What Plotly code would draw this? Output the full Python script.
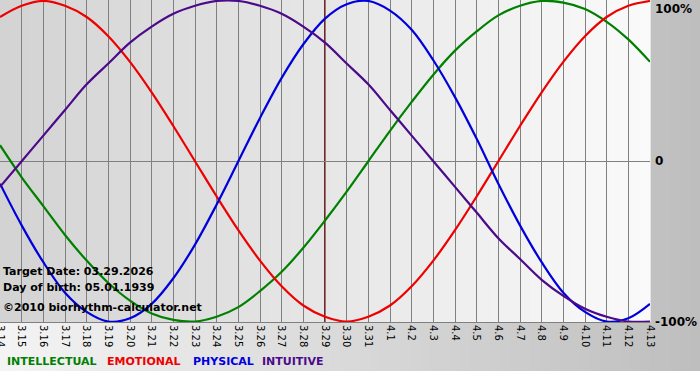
import plotly.graph_objects as go

# ---- data ----
DAYS = ["3.14", "3.15", "3.16", "3.17", "3.18", "3.19", "3.20", "3.21", "3.22", "3.23",
        "3.24", "3.25", "3.26", "3.27", "3.28", "3.29", "3.30", "3.31", "4.1", "4.2",
        "4.3", "4.4", "4.5", "4.6", "4.7", "4.8", "4.9", "4.10", "4.11", "4.12", "4.13"]

INTELLECTUAL = [0.10, -0.10, -0.28, -0.46, -0.62, -0.76, -0.87, -0.95, -0.99, -1.00,
                -0.97, -0.91, -0.81, -0.69, -0.54, -0.37, -0.19, 0.00, 0.19, 0.37,
                0.54, 0.69, 0.81, 0.91, 0.97, 1.00, 0.99, 0.95, 0.87, 0.76, 0.62]
EMOTIONAL = [0.90, 0.97, 1.00, 0.97, 0.90, 0.78, 0.62, 0.43, 0.22, 0.00,
             -0.22, -0.43, -0.62, -0.78, -0.90, -0.97, -1.00, -0.97, -0.90, -0.78,
             -0.62, -0.43, -0.22, 0.00, 0.22, 0.43, 0.62, 0.78, 0.90, 0.97, 1.00]
PHYSICAL = [-0.14, -0.40, -0.63, -0.82, -0.94, -1.00, -0.98, -0.89, -0.73, -0.52,
            -0.27, 0.00, 0.27, 0.52, 0.73, 0.89, 0.98, 1.00, 0.94, 0.82,
            0.63, 0.40, 0.14, -0.14, -0.40, -0.63, -0.82, -0.94, -1.00, -0.98, -0.89]
INTUITIVE = [-0.16, 0.00, 0.16, 0.32, 0.48, 0.61, 0.74, 0.84, 0.92, 0.97,
             1.00, 1.00, 0.97, 0.92, 0.84, 0.74, 0.61, 0.48, 0.32, 0.16,
             0.00, -0.16, -0.32, -0.48, -0.61, -0.74, -0.84, -0.92, -0.97, -1.00, -1.00]

TARGET_DAY = "3.29"
TARGET_TEXT = "Target Date: 03.29.2026"
BIRTH_TEXT = "Day of birth: 05.01.1939"
COPY_TEXT = "©2010 biorhythm-calculator.net"
SERIES = [("INTELLECTUAL", INTELLECTUAL, "#008000"),
          ("EMOTIONAL", EMOTIONAL, "#ee0000"),
          ("PHYSICAL", PHYSICAL, "#0000dd"),
          ("INTUITIVE", INTUITIVE, "#4b0a8a")]
Y_LABELS = [(1, "100%"), (0, "0"), (-1, "-100%")]

# ---- layout geometry (pixels) ----
W, H = 700, 380
ML, MR, MT, MB = 0, 50, 0, 58
PW, PH = W - ML - MR, H - MT - MB

def px_to_paper_x(px):
    return (px - ML) / PW

def px_to_paper_y(py):
    return (H - MB - py) / PH

fig = go.Figure()
for name, vals, col in SERIES:
    fig.add_trace(go.Scatter(x=DAYS, y=vals, mode="lines", name=name,
                             line=dict(color=col, width=2.2, shape="spline", smoothing=1.0),
                             showlegend=False, hoverinfo="skip"))

shapes = []
# outer background gradient (light left -> darker right)
n = 70
for i in range(n):
    t = (i + 0.5) / n
    g = int(round(0xf4 + (0xbe - 0xf4) * t))
    shapes.append(dict(type="rect", xref="paper", yref="paper", layer="below",
                       x0=px_to_paper_x(W * i / n), x1=px_to_paper_x(W * (i + 1) / n + 0.5),
                       y0=px_to_paper_y(371), y1=px_to_paper_y(0),
                       line=dict(width=0), fillcolor=f"rgb({g},{g},{g})"))
# plot area gradient (darker left -> light right)
m = 65
for i in range(m):
    t = (i + 0.5) / m
    g = int(round(0xd3 + (0xfa - 0xd3) * t))
    shapes.append(dict(type="rect", xref="paper", yref="paper", layer="below",
                       x0=i / m, x1=(i + 1) / m + 0.001, y0=0, y1=1,
                       line=dict(width=0), fillcolor=f"rgb({g},{g},{g})"))
# target date marker (category index of the target day)
tidx = DAYS.index(TARGET_DAY)
shapes.append(dict(type="line", xref="x", yref="paper", layer="between",
                   x0=tidx, x1=tidx, y0=0, y1=1,
                   line=dict(color="#8b1c1c", width=2)))

annotations = []
FONT = "DejaVu Sans"
for i, txt in enumerate([TARGET_TEXT, BIRTH_TEXT, COPY_TEXT]):
    annotations.append(dict(text=txt, xref="paper", yref="paper",
                            x=px_to_paper_x(1), y=px_to_paper_y([271, 287, 307][i]),
                            xanchor="left", yanchor="middle", showarrow=False,
                            font=dict(family=FONT, size=11, color="black", weight="bold")))
leg_x = [5, 105, 191, 260]
for (name, vals, col), lx in zip(SERIES, leg_x):
    annotations.append(dict(text=name, xref="paper", yref="paper",
                            x=px_to_paper_x(lx), y=px_to_paper_y(361),
                            xanchor="left", yanchor="middle", showarrow=False,
                            font=dict(family=FONT, size=11, color=col, weight="bold")))
for val, lab in Y_LABELS:
    annotations.append(dict(text=lab, xref="paper", yref="y",
                            x=1.0 + 3 / PW, y=val,
                            xanchor="left",
                            yanchor="top" if val == 1 else "middle",
                            yshift=1 if val == 1 else 0,
                            showarrow=False,
                            font=dict(family=FONT, size=12, color="black", weight="bold")))

fig.update_layout(
    width=W, height=H,
    margin=dict(l=ML, r=MR, t=MT, b=MB, pad=0, autoexpand=False),
    paper_bgcolor="white", plot_bgcolor="rgba(0,0,0,0)",
    shapes=shapes, annotations=annotations, showlegend=False,
    xaxis=dict(type="category", range=[0, len(DAYS) - 1], showgrid=True,
               gridcolor="#808080", gridwidth=1, tickangle=90, ticks="",
               tickfont=dict(family=FONT, size=10, color="black"),
               showline=True, linecolor="#808080", linewidth=1, zeroline=False,
               fixedrange=True, automargin=False),
    yaxis=dict(range=[-1.003, 1.006], tickvals=[0], showticklabels=False,
               showgrid=True, gridcolor="#808080", gridwidth=1, zeroline=False,
               showline=False, fixedrange=True, automargin=False),
)

fig.write_html("out.html", config={"displayModeBar": False})
